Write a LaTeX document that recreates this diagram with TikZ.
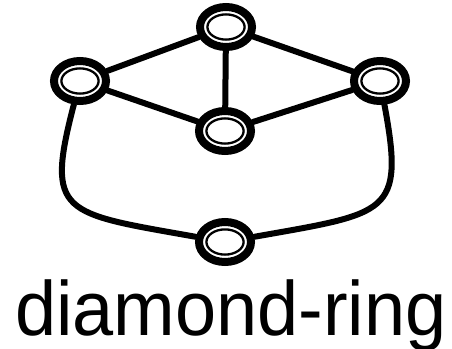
\documentclass[tikz,border=0pt]{standalone}
\usepackage{fontspec}
\setmainfont{Liberation Sans}
\usetikzlibrary{shapes.geometric}
\tikzset{
  ring/.style={ellipse, draw, line width=8pt, fill=white, inner sep=0pt,
    minimum width=52pt, minimum height=40pt},
  inring/.style={line width=2.3pt},
  edge/.style={line width=6pt, line cap=round},
}
\begin{document}
\begin{tikzpicture}[x=1pt, y=-1pt]
  \useasboundingbox (0,0) rectangle (452,348);
  % the five rings
  \foreach \n/\x/\y in {t/226/27, l/80/81, r/380/81, m/225/131, b/225/242} {
    \node[ring] (\n) at (\x,\y) {};
    \draw[inring] (\n.center) ellipse[x radius=18.6, y radius=12.6];
  }
  % straight edges
  \draw[edge] (t) -- (l);
  \draw[edge] (t) -- (r);
  \draw[edge] (t) -- (m);
  \draw[edge] (l) -- (m);
  \draw[edge] (r) -- (m);
  % the two bent sides
  \draw[edge] (l) .. controls (45,215) and (62,213) .. (b);
  \draw[edge] (r) .. controls (405,215) and (388,213) .. (b);
  % caption
  \node[anchor=base, inner sep=0pt, font=\fontsize{77}{80}\selectfont] (cap) at (231,335)
    {\scalebox{0.96}[1]{diamond-ring}};
\end{tikzpicture}
\end{document}
